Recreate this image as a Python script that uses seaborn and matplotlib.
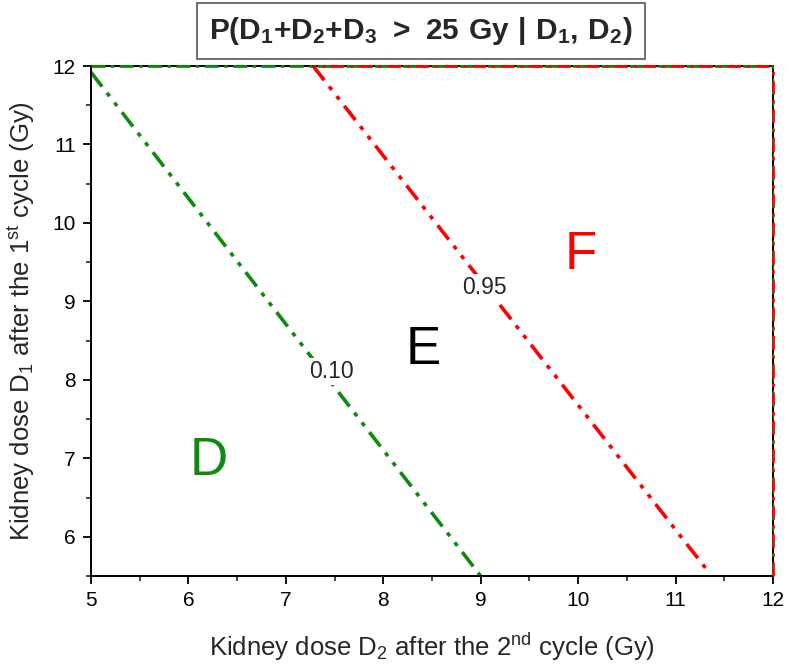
import matplotlib
matplotlib.use("Agg")
import matplotlib.pyplot as plt
import seaborn as sns
import pandas as pd
from matplotlib.ticker import MultipleLocator

# contour lines (D2, D1) endpoints
p10_d2 = [5.0, 9.0]
p10_d1 = [11.92, 5.5]
p95_d2 = [7.28, 11.34]
p95_d1 = [12.0, 5.55]

# label positions
lab_text = ["0.10", "0.95"]
lab_d2 = [7.47, 9.04]
lab_d1 = [8.11, 9.18]

regions = ["D", "E", "F"]
reg_d2 = [6.21, 8.41, 10.03]
reg_d1 = [6.97, 8.38, 9.59]
reg_col = ["#0f8a0f", "black", "#ff0000"]

GREEN = "#0f8a0f"
RED = "#ff0000"

sns.set_theme(style="ticks")
plt.rcParams["font.family"] = ["Liberation Sans Narrow", "Liberation Sans", "DejaVu Sans"]
plt.rcParams["mathtext.fontset"] = "custom"
plt.rcParams["mathtext.rm"] = "Liberation Sans Narrow"
plt.rcParams["mathtext.bf"] = "Liberation Sans:bold"
plt.rcParams["mathtext.default"] = "regular"

fig, ax = plt.subplots(figsize=(7.87, 6.65), dpi=100)
fig.subplots_adjust(left=91/787, right=773/787, bottom=1-576/665, top=1-66/665)

ddd = (0, (5, 2.2, 1.2, 2.2, 1.2, 2.2))
df10 = pd.DataFrame({"D2": p10_d2, "D1": p10_d1})
df95 = pd.DataFrame({"D2": p95_d2, "D1": p95_d1})
sns.lineplot(data=df10, x="D2", y="D1", ax=ax, color=GREEN, linewidth=2.6, linestyle=ddd)
sns.lineplot(data=df95, x="D2", y="D1", ax=ax, color=RED, linewidth=2.6, linestyle=ddd)

# boundary contours running along the frame
ax.plot([5, 12], [12, 12], color=GREEN, lw=2.0, linestyle=(0, (5, 2, 1.2, 2)), clip_on=False, zorder=3)
ax.plot([7.28, 12], [12, 12], color=RED, lw=2.0, linestyle=(4, (5, 2, 1.2, 2)), clip_on=False, zorder=3)
ax.plot([12, 12], [5.5, 12], color=RED, lw=2.0, linestyle=(0, (5, 2, 1.2, 2)), clip_on=False, zorder=3)
ax.plot([12, 12], [5.5, 12], color=GREEN, lw=1.0, linestyle=(4, (3, 6)), clip_on=False, zorder=3)

for t, x, y in zip(lab_text, lab_d2, lab_d1):
    ax.text(x, y, t, fontsize=16.5, ha="center", va="center", family=["Liberation Sans", "DejaVu Sans"],
            bbox=dict(facecolor="white", edgecolor="none", pad=1.5), zorder=5)

for t, x, y, c in zip(regions, reg_d2, reg_d1, reg_col):
    ax.text(x, y, t, fontsize=38, color=c, ha="center", va="center", family=["Liberation Sans", "DejaVu Sans"])

ax.set_xlim(5, 12)
ax.set_ylim(5.5, 12)
ax.xaxis.set_major_locator(MultipleLocator(1))
ax.xaxis.set_minor_locator(MultipleLocator(0.5))
ax.yaxis.set_major_locator(MultipleLocator(1))
ax.yaxis.set_minor_locator(MultipleLocator(0.5))
ax.tick_params(which="major", direction="out", length=6, width=1.3, labelsize=15, colors="black", pad=5)
ax.tick_params(which="minor", direction="out", length=3.5, width=1.2)
for s in ax.spines.values():
    s.set_linewidth(1.4)
    s.set_color("black")

ax.set_xlabel("Kidney dose D$_2$ after the 2$^{nd}$ cycle (Gy)", fontsize=18.5, labelpad=15)
ax.set_ylabel("Kidney dose D$_1$ after the 1$^{st}$ cycle (Gy)", fontsize=18.5, labelpad=11)

fig.text(421/787, 1-31/665, r"$\mathbf{P(D_1{+}D_2{+}D_3\ {>}\ 25\ Gy\ |\ D_1{,}\ D_2)}$",
         fontsize=21.5, ha="center", va="center",
         bbox=dict(boxstyle="square,pad=0.4", facecolor="white", edgecolor="#555555", lw=1.2))

fig.savefig("out.png", dpi=100)
